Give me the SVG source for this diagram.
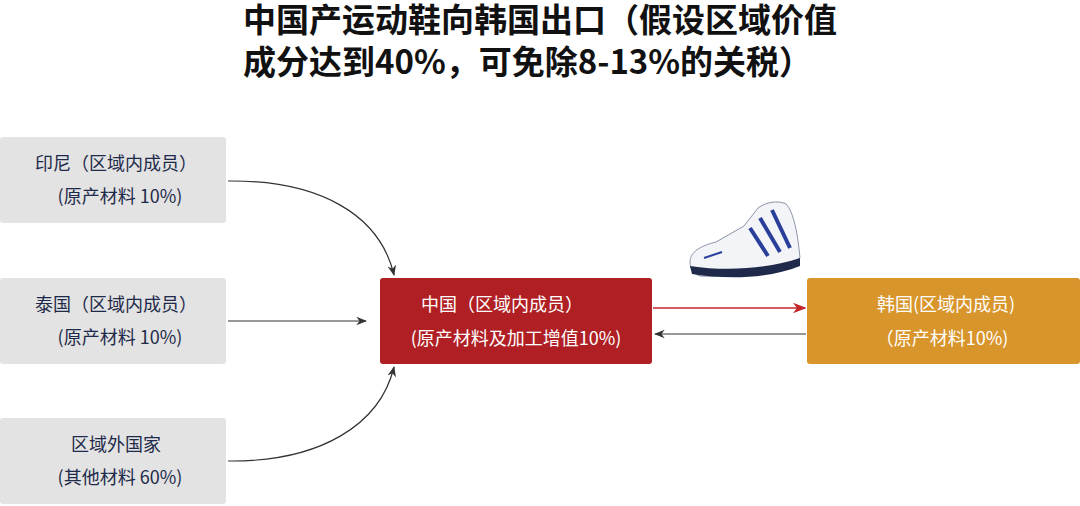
<svg xmlns="http://www.w3.org/2000/svg" width="1080" height="506" viewBox="0 0 1080 506">
<style>
.t{font-family:"Noto Sans CJK SC","Noto Sans",sans-serif}
.title{font-size:33px;font-weight:bold;fill:#111}
.g{fill:#e3e3e3}
.gt{font-size:18px;fill:#1e2a4a;text-anchor:middle}
.wt{font-size:18px;fill:#fff;text-anchor:middle}
.c{fill:none;stroke:#333;stroke-width:1.2}
</style>
<defs>
<marker id="a" viewBox="0 0 10 10" refX="9" refY="5" markerWidth="9" markerHeight="9" orient="auto"><path d="M0,1L10,5L0,9L3,5z" fill="#333"/></marker>
<marker id="r" viewBox="0 0 10 10" refX="9" refY="5" markerWidth="9" markerHeight="9" orient="auto"><path d="M0,1L10,5L0,9L3,5z" fill="#c0262c"/></marker>
</defs>
<text class="t title" x="243" y="32">中国产运动鞋向韩国出口（假设区域价值</text>
<text class="t title" x="243" y="74">成分达到40%，可免除8-13%的关税）</text>
<g id="indonesia"><rect class="g" x="0" y="137" width="226" height="86" rx="3"/><text class="t gt" x="116" y="170">印尼（区域内成员）</text><text class="t gt" x="120" y="203">(原产材料 10%)</text></g>
<g id="thailand"><rect class="g" x="0" y="278" width="226" height="86" rx="3"/><text class="t gt" x="116" y="311">泰国（区域内成员）</text><text class="t gt" x="120" y="344">(原产材料 10%)</text></g>
<g id="outside"><rect class="g" x="0" y="418" width="226" height="86" rx="3"/><text class="t gt" x="116" y="451">区域外国家</text><text class="t gt" x="120" y="484">(其他材料 60%)</text></g>
<g id="china"><rect x="380" y="278" width="272" height="86" rx="3" fill="#b01f24"/><text class="t wt" x="502" y="311">中国（区域内成员）</text><text class="t wt" x="516" y="345">(原产材料及加工增值10%)</text></g>
<g id="korea"><rect x="807" y="278" width="273" height="86" rx="3" fill="#d8952b"/><text class="t wt" x="946" y="311">韩国(区域内成员)</text><text class="t wt" x="942" y="345">（原产材料10%)</text></g>
<g id="shoe">
<path d="M690,262 C690,252 700,246 716,242 L744,226 L758,208 C766,202 778,200 786,204 C794,212 798,236 800,258 C790,268 740,278 700,276 C693,274 690,268 690,262 Z" fill="#f2f4f8" stroke="#8a93a8" stroke-width="1"/>
<path d="M750,228 L768,256 M760,218 L780,252 M772,210 L790,248" stroke="#2a3f9a" stroke-width="4"/>
<path d="M690,266 C730,272 770,268 800,258 L800,266 C770,278 730,280 692,274 Z" fill="#1f2a4a"/>
<path d="M704,258 L722,252" stroke="#2a3f9a" stroke-width="2"/>
</g>
<g id="connectors">
<path class="c" d="M228,181 C320,180 380,215 394,275" marker-end="url(#a)"/>
<path class="c" d="M228,321 L366,321" marker-end="url(#a)"/>
<path class="c" d="M228,461 C320,462 380,425 394,367" marker-end="url(#a)"/>
<path d="M653,308 L805,308" stroke="#c0262c" stroke-width="1.5" marker-end="url(#r)"/>
<path class="c" d="M806,334 L655,334" marker-end="url(#a)"/>
</g>
</svg>
